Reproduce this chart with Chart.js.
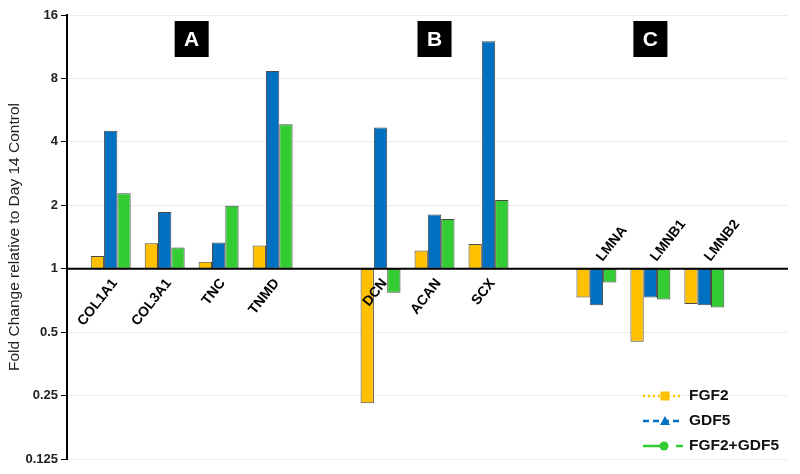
<!DOCTYPE html>
<html>
    <head>
        <title>Fold change</title>
        <meta charset="UTF-8">
        <style>
            body { margin: 0; background: white; }
            #chart-holder { width: 800px; height: 474px; position: relative; }
        </style>
    </head>
    <body>
        <div id="chart-holder">
            <canvas id="grafica"></canvas>
        </div>

        <script src="https://cdn.jsdelivr.net/npm/chart.js@4"></script>
        <script>
            // data ('' = empty slot between groups)
            var categories = ['COL1A1', 'COL3A1', 'TNC', 'TNMD', '', 'DCN', 'ACAN', 'SCX', '', 'LMNA', 'LMNB1', 'LMNB2'];
            var fgf2 = [1.15, 1.32, 1.08, 1.29, null, 0.23, 1.22, 1.31, null, 0.73, 0.45, 0.68];
            var gdf5 = [4.52, 1.86, 1.33, 8.68, null, 4.68, 1.81, 12.0, null, 0.67, 0.73, 0.67];
            var fgf2gdf5 = [2.28, 1.26, 1.99, 4.85, null, 0.77, 1.72, 2.12, null, 0.86, 0.715, 0.655];
            var seriesNames = ['FGF2', 'GDF5', 'FGF2+GDF5'];
            var yTicks = [0.125, 0.25, 0.5, 1, 2, 4, 8, 16];
            var groups = [
                ['A', ['COL1A1', 'COL3A1', 'TNC', 'TNMD']],
                ['B', ['DCN', 'ACAN', 'SCX']],
                ['C', ['LMNA', 'LMNB1', 'LMNB2']]
            ];

            var colors = ['#FFC000', '#0070C0', '#33CC33'];
            var font = '"Liberation Sans", Arial, sans-serif';

            function toPoints(values) {
                var pts = [];
                categories.forEach(function (c, i) {
                    if (c !== '' && values[i] != null) {
                        pts.push({x: i, y: [1, values[i]]});
                    }
                });
                return pts;
            }

            // base line at 1, gene labels, group letters
            var decorations = {
                id: 'decorations',
                afterDatasetsDraw: function (chart) {
                    var ctx = chart.ctx;
                    var xs = chart.scales.x, ys = chart.scales.y;
                    var area = chart.chartArea;
                    var base = ys.getPixelForValue(1);
                    ctx.save();
                    ctx.strokeStyle = '#000';
                    ctx.lineWidth = 2;
                    ctx.beginPath();
                    ctx.moveTo(area.left, base);
                    ctx.lineTo(area.right, base);
                    ctx.stroke();

                    ctx.fillStyle = '#000';
                    ctx.font = 'bold 14px ' + font;
                    ctx.textBaseline = 'middle';
                    categories.forEach(function (c, i) {
                        if (c === '') return;
                        var x = xs.getPixelForValue(i);
                        var up = Math.max(fgf2[i], gdf5[i], fgf2gdf5[i]) > 1;
                        ctx.save();
                        if (up) {
                            ctx.translate(x + 4, base + 12);
                            ctx.rotate(-52 * Math.PI / 180);
                            ctx.textAlign = 'right';
                        } else {
                            ctx.translate(x + 3, base - 9);
                            ctx.rotate(-52 * Math.PI / 180);
                            ctx.textAlign = 'left';
                        }
                        ctx.fillText(c, 0, 0);
                        ctx.restore();
                    });
                    ctx.restore();
                },
                afterDraw: function (chart) {
                    var ctx = chart.ctx;
                    var xs = chart.scales.x;
                    var area = chart.chartArea;
                    ctx.save();
                    groups.forEach(function (g) {
                        var idx = g[1].map(function (c) { return categories.indexOf(c); });
                        var mid = (Math.min.apply(null, idx) + Math.max.apply(null, idx)) / 2;
                        var x = xs.getPixelForValue(mid);
                        ctx.fillStyle = '#000';
                        ctx.fillRect(x - 17, area.top + 6, 34, 36);
                        ctx.fillStyle = '#fff';
                        ctx.font = 'bold 21px ' + font;
                        ctx.textAlign = 'center';
                        ctx.textBaseline = 'middle';
                        ctx.fillText(g[0], x, area.top + 25);
                    });

                    // legend with line samples
                    var lx = area.right - 145, ly = area.bottom - 63;
                    seriesNames.forEach(function (name, k) {
                        var y = ly + k * 25;
                        ctx.strokeStyle = colors[k];
                        ctx.fillStyle = colors[k];
                        ctx.lineWidth = 2.5;
                        ctx.setLineDash(k === 0 ? [2, 3] : (k === 1 ? [6, 4] : [22, 11]));
                        ctx.beginPath();
                        ctx.moveTo(lx, y);
                        ctx.lineTo(lx + 40, y);
                        ctx.stroke();
                        ctx.setLineDash([]);
                        var mx = lx + 22;
                        ctx.beginPath();
                        if (k === 0) {
                            ctx.rect(mx - 4.5, y - 4.5, 9, 9);
                        } else if (k === 1) {
                            ctx.moveTo(mx, y - 5);
                            ctx.lineTo(mx + 5, y + 4);
                            ctx.lineTo(mx - 5, y + 4);
                            ctx.closePath();
                        } else {
                            ctx.arc(mx - 1, y, 4.5, 0, Math.PI * 2);
                        }
                        ctx.fill();
                        ctx.fillStyle = '#111';
                        ctx.font = 'bold 15.5px ' + font;
                        ctx.textAlign = 'left';
                        ctx.textBaseline = 'middle';
                        ctx.fillText(name, lx + 46, y);
                    });
                    ctx.restore();
                }
            };

            var chartCtx = document.getElementById('grafica').getContext('2d');
            var series = [fgf2, gdf5, fgf2gdf5];
            var chart = new Chart(chartCtx, {
                type: 'bar',
                data: {
                    datasets: series.map(function (s, k) {
                        return {
                            label: seriesNames[k],
                            data: toPoints(s),
                            backgroundColor: colors[k],
                            borderColor: '#4a4a4a',
                            borderWidth: 1,
                            borderSkipped: false,
                            categoryPercentage: 0.74,
                            barPercentage: 1
                        };
                    })
                },
                options: {
                    responsive: true,
                    maintainAspectRatio: false,
                    animation: false,
                    layout: {padding: {top: 15, right: 12, bottom: 15, left: 0}},
                    plugins: {legend: {display: false}, tooltip: {enabled: false}},
                    scales: {
                        x: {
                            type: 'linear',
                            display: false,
                            offset: false,
                            min: -0.81,
                            max: 12.55
                        },
                        y: {
                            type: 'logarithmic',
                            min: 0.125,
                            max: 16,
                            afterBuildTicks: function (scale) {
                                scale.ticks = yTicks.map(function (v) { return {value: v}; });
                            },
                            afterFit: function (scale) {
                                scale.width = 67;
                            },
                            border: {color: '#000', width: 2},
                            grid: {color: '#ececec', tickColor: '#000', tickLength: 6},
                            ticks: {
                                color: '#222',
                                padding: 3,
                                font: {family: font, size: 13, weight: 'bold'},
                                callback: function (v) { return String(v); }
                            },
                            title: {
                                display: true,
                                text: 'Fold Change relative to Day 14 Control',
                                color: '#222',
                                font: {family: font, size: 15.5},
                                padding: {top: 5, bottom: 0}
                            }
                        }
                    }
                },
                plugins: [decorations]
            });
        </script>
    </body>
</html>
